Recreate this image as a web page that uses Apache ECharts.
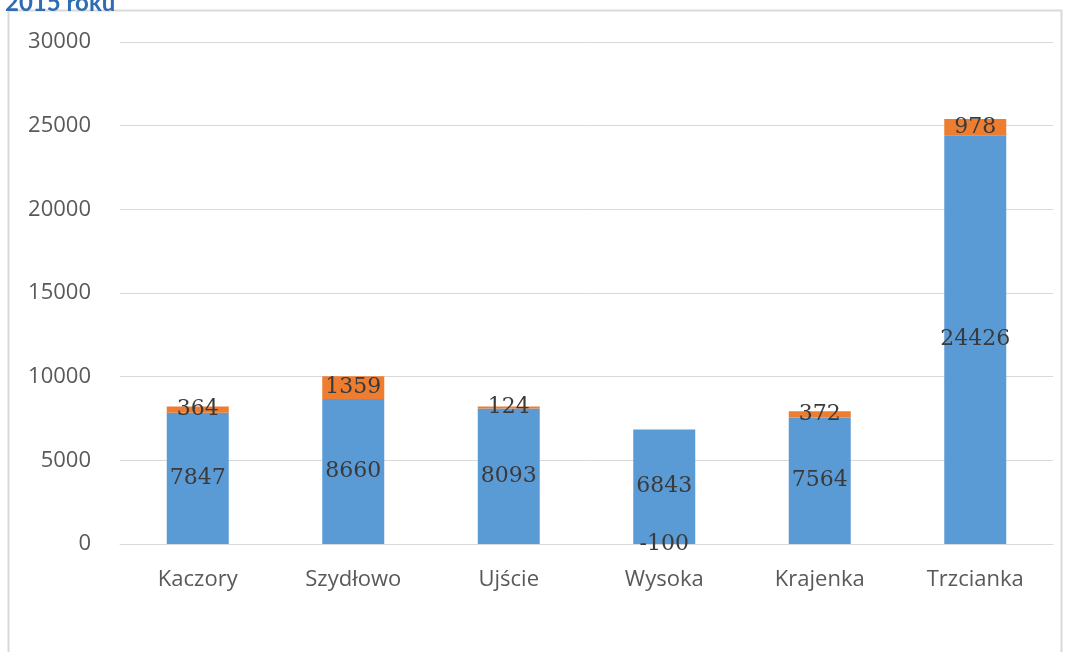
<!DOCTYPE html>
<html><head><meta charset="utf-8">
<script src="https://cdn.jsdelivr.net/npm/echarts@6/dist/echarts.min.js"></script>
<style>html,body{margin:0;padding:0;background:#fff;}#c{width:1073px;height:652px;}</style>
</head><body><div id="c"></div>
<script>
const categories = ['Kaczory','Szydłowo','Ujście','Wysoka','Krajenka','Trzcianka'];
const blueValues = [7847, 8660, 8093, 6843, 7564, 24426];
const orangeValues = [364, 1359, 124, -100, 372, 978];
const titleText = '2015 roku';

const chart = echarts.init(document.getElementById('c'));
const labelStyle = {show:true, position:'inside', color:'#3a3a3a', fontFamily:'DejaVu Serif', fontSize:22};
chart.setOption({
  animation:false,
  backgroundColor:'#fff',
  title:{text:titleText, left:0, top:-14, textStyle:{color:'#2E6DB4', fontWeight:'bold', fontSize:24, fontFamily:'Lato'}},
  graphic:[{type:'rect', shape:{x:8.5, y:10.5, width:1053, height:700}, style:{fill:'none', stroke:'#D9D9D9', lineWidth:2}, silent:true}],
  grid:{left:120, right:20, top:42, bottom:108},
  xAxis:{type:'category', data:categories,
    axisLine:{lineStyle:{color:'#D9D9D9'}}, axisTick:{show:false},
    axisLabel:{color:'#595959', fontFamily:'Open Sans', fontSize:22, margin:25}},
  yAxis:{type:'value', min:0, max:30000, interval:5000,
    axisLine:{show:false}, axisTick:{show:false},
    splitLine:{lineStyle:{color:'#D9D9D9'}},
    axisLabel:{color:'#595959', fontFamily:'Open Sans', fontSize:22, margin:29, formatter:function(v){return String(v);}}},
  series:[
    {type:'bar', stack:'a', data:blueValues, barWidth:62, itemStyle:{color:'#5B9BD5'}, label:labelStyle},
    {type:'bar', stack:'a', data:orangeValues, barWidth:62, itemStyle:{color:'#ED7D31'}, label:labelStyle}
  ]
});
</script></body></html>
